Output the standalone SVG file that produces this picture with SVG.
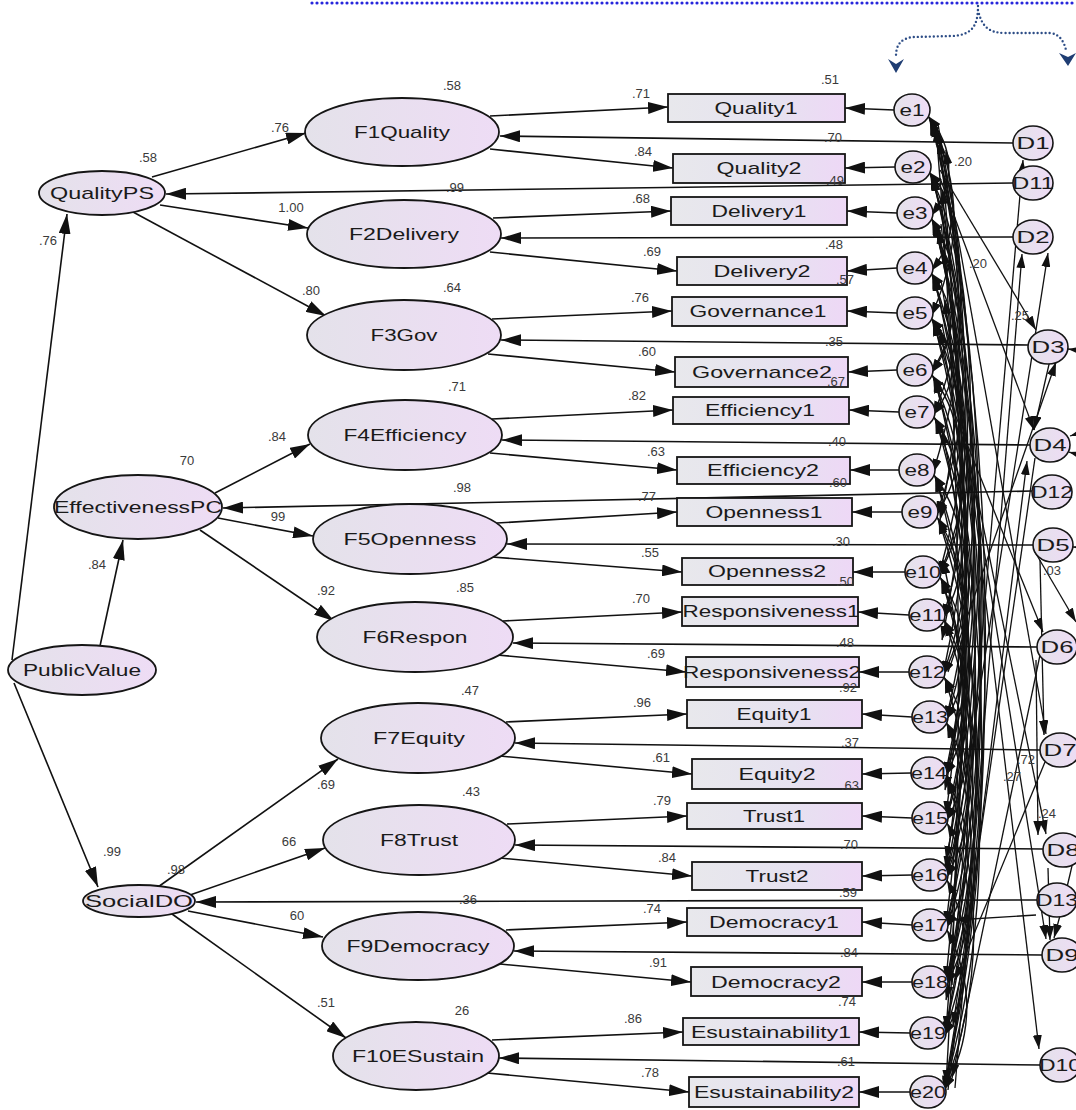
<svg xmlns="http://www.w3.org/2000/svg" width="1076" height="1110" viewBox="0 0 1076 1110">
  <defs>
    <linearGradient id="lav" x1="0" y1="0" x2="1" y2="0">
      <stop offset="0" stop-color="#e4e2ea"/>
      <stop offset="1" stop-color="#eedcf5"/>
    </linearGradient>
    <linearGradient id="box" x1="0" y1="0" x2="1" y2="0">
      <stop offset="0" stop-color="#e8e8ec"/>
      <stop offset="0.6" stop-color="#e6e2f0"/>
      <stop offset="1" stop-color="#eed8f6"/>
    </linearGradient>
    <marker id="ah" viewBox="0 0 20 12" refX="20" refY="6" markerWidth="20" markerHeight="12" markerUnits="userSpaceOnUse" orient="auto-start-reverse">
      <path d="M0,0 L20,6 L0,12 z" fill="#111"/>
    </marker>
    <marker id="sh" viewBox="0 0 14 9" refX="14" refY="4.5" markerWidth="14" markerHeight="9" markerUnits="userSpaceOnUse" orient="auto-start-reverse">
      <path d="M0,0 L14,4.5 L0,9 z" fill="#111"/>
    </marker>
  </defs>
  <style>
    .lat ellipse { fill: url(#lav); stroke: #151515; stroke-width: 1.8; }
    .obs rect { fill: url(#box); stroke: #151515; stroke-width: 1.8; }
    .err ellipse { fill: url(#lav); stroke: #151515; stroke-width: 1.6; }
    .lbl { font-family: "Liberation Sans", Arial, sans-serif; font-size: 17px; fill: #1a1a1a; text-anchor: middle; }
    .num { font-family: "Liberation Sans", Arial, sans-serif; font-size: 13px; fill: #3a3a3a; text-anchor: middle; }
    .path line, .path path { stroke: #111; stroke-width: 1.6; fill: none; marker-end: url(#ah); }
    .cov path { stroke: #111; stroke-width: 1.4; fill: none; marker-start: url(#sh); marker-end: url(#sh); }
    .cvl path { stroke: #111; stroke-width: 1.3; fill: none; marker-end: url(#sh); }
    .note { fill: none; stroke-linecap: round; }
  </style>

  <rect width="1076" height="1110" fill="#ffffff"/>

  <!-- dotted callout along the top edge -->
  <g id="callout">
    <line class="note" x1="312" y1="3" x2="1076" y2="3" stroke="#2626dc" stroke-width="3.2" stroke-dasharray="0 5"/>
    <path class="note" d="M978,6 C978,26 972,35 952,36 L914,37 C900,38 896,46 896,56" stroke="#2d4d86" stroke-width="2.4" stroke-dasharray="0 4"/>
    <path class="note" d="M978,10 C982,28 990,33 1006,33 L1050,33 C1060,34 1064,42 1066,50" stroke="#2d4d86" stroke-width="2.4" stroke-dasharray="0 4"/>
    <path d="M888,59 L896,73 L904,59 L896,64 z" fill="#1f3d73"/>
    <path d="M1059,53 L1068,66 L1076,53 L1068,57 z" fill="#1f3d73"/>
  </g>

  <!-- connectors -->
  <g id="connectors">
    <g class="path">
      <!-- second-order paths -->
      <line x1="12" y1="660" x2="67" y2="214"/>
      <line x1="100" y1="646" x2="123" y2="540"/>
      <line x1="14" y1="683" x2="98" y2="887"/>
      <line x1="152" y1="177" x2="306" y2="133"/>
      <line x1="160" y1="205" x2="308" y2="228"/>
      <line x1="133" y1="212" x2="326" y2="316"/>
      <line x1="215" y1="493" x2="310" y2="444"/>
      <line x1="218" y1="518" x2="313" y2="536"/>
      <line x1="200" y1="530" x2="334" y2="621"/>
      <line x1="158" y1="887" x2="338" y2="759"/>
      <line x1="190" y1="895" x2="325" y2="848"/>
      <line x1="188" y1="911" x2="323" y2="937"/>
      <line x1="172" y1="914" x2="346" y2="1038"/>
      <!-- loadings -->
      <line x1="490" y1="116" x2="668" y2="107"/>
      <line x1="490" y1="149" x2="673" y2="168"/>
      <line x1="493" y1="218" x2="671" y2="211"/>
      <line x1="490" y1="252" x2="677" y2="271"/>
      <line x1="492" y1="319" x2="672" y2="311"/>
      <line x1="488" y1="354" x2="675" y2="372"/>
      <line x1="492" y1="419" x2="673" y2="410"/>
      <line x1="490" y1="453" x2="677" y2="470"/>
      <line x1="497" y1="523" x2="677" y2="512"/>
      <line x1="492" y1="557" x2="682" y2="572"/>
      <line x1="503" y1="621" x2="682" y2="612"/>
      <line x1="497" y1="655" x2="686" y2="672"/>
      <line x1="506" y1="722" x2="687" y2="714"/>
      <line x1="500" y1="756" x2="692" y2="774"/>
      <line x1="507" y1="824" x2="687" y2="816"/>
      <line x1="500" y1="858" x2="692" y2="876"/>
      <line x1="506" y1="930" x2="687" y2="922"/>
      <line x1="500" y1="964" x2="691" y2="982"/>
      <line x1="492" y1="1040" x2="683" y2="1032"/>
      <line x1="487" y1="1073" x2="689" y2="1092"/>
      <!-- disturbances -->
      <line x1="1013" y1="143" x2="500" y2="136"/>
      <line x1="1013" y1="183" x2="166" y2="194"/>
      <line x1="1013" y1="237" x2="501" y2="238"/>
      <line x1="1028" y1="345" x2="501" y2="340"/>
      <line x1="1030" y1="445" x2="502" y2="440"/>
      <line x1="1032" y1="491" x2="223" y2="508"/>
      <line x1="1033" y1="545" x2="507" y2="544"/>
      <line x1="1037" y1="647" x2="513" y2="643"/>
      <line x1="1040" y1="750" x2="515" y2="743"/>
      <line x1="1043" y1="849" x2="515" y2="845"/>
      <line x1="1037" y1="900" x2="196" y2="902"/>
      <line x1="1042" y1="955" x2="514" y2="951"/>
      <line x1="1040" y1="1065" x2="499" y2="1058"/>
      <!-- measurement errors -->
      <line x1="894" y1="110" x2="845" y2="108"/>
      <line x1="895" y1="167" x2="845" y2="168"/>
      <line x1="897" y1="213" x2="847" y2="211"/>
      <line x1="897" y1="268" x2="847" y2="271"/>
      <line x1="897" y1="313" x2="847" y2="311"/>
      <line x1="897" y1="370" x2="848" y2="372"/>
      <line x1="899" y1="412" x2="849" y2="410"/>
      <line x1="899" y1="470" x2="850" y2="470"/>
      <line x1="902" y1="512" x2="852" y2="512"/>
      <line x1="905" y1="572" x2="853" y2="572"/>
      <line x1="909" y1="615" x2="858" y2="612"/>
      <line x1="909" y1="672" x2="859" y2="672"/>
      <line x1="912" y1="717" x2="862" y2="714"/>
      <line x1="911" y1="773" x2="862" y2="774"/>
      <line x1="912" y1="818" x2="862" y2="816"/>
      <line x1="912" y1="875" x2="862" y2="876"/>
      <line x1="912" y1="925" x2="862" y2="922"/>
      <line x1="912" y1="982" x2="862" y2="982"/>
      <line x1="910" y1="1033" x2="859" y2="1032"/>
      <line x1="910" y1="1092" x2="859" y2="1092"/>
    </g>

    <!-- error covariances -->
    <g class="cov">
      <path d="M928,116 Q968,165 931,216"/>
      <path d="M929,118 Q978,215 931,316"/>
      <path d="M930,120 Q990,290 933,473"/>
      <path d="M931,121 Q1004,395 943,675"/>
      <path d="M932,122 Q1018,500 946,878"/>
      <path d="M933,123 Q1032,610 944,1090"/>
      <path d="M929,172 Q972,220 931,271"/>
      <path d="M930,174 Q986,295 933,415"/>
      <path d="M931,175 Q996,375 939,575"/>
      <path d="M932,176 Q1010,475 945,776"/>
      <path d="M933,177 Q1024,580 946,985"/>
      <path d="M931,218 Q980,295 931,373"/>
      <path d="M932,220 Q992,370 936,515"/>
      <path d="M933,221 Q1006,470 946,720"/>
      <path d="M934,222 Q1020,575 946,928"/>
      <path d="M935,223 Q1030,660 944,1092"/>
      <path d="M931,273 Q970,322 931,373"/>
      <path d="M932,275 Q996,445 943,618"/>
      <path d="M933,276 Q1010,550 946,821"/>
      <path d="M934,277 Q1023,655 944,1036"/>
      <path d="M931,318 Q972,365 933,415"/>
      <path d="M932,320 Q994,450 939,575"/>
      <path d="M933,321 Q1008,550 945,776"/>
      <path d="M934,322 Q1020,655 946,985"/>
      <path d="M932,375 Q982,445 936,515"/>
      <path d="M933,377 Q996,525 943,675"/>
      <path d="M934,378 Q1010,625 946,878"/>
      <path d="M935,379 Q1024,735 944,1090"/>
      <path d="M934,417 Q984,495 939,575"/>
      <path d="M935,419 Q996,570 946,720"/>
      <path d="M936,420 Q1010,675 946,928"/>
      <path d="M934,475 Q984,545 943,618"/>
      <path d="M935,477 Q998,650 946,821"/>
      <path d="M936,478 Q1012,755 944,1036"/>
      <path d="M937,517 Q985,595 943,675"/>
      <path d="M938,519 Q996,645 945,776"/>
      <path d="M939,520 Q1012,750 946,985"/>
      <path d="M940,577 Q986,650 946,720"/>
      <path d="M941,579 Q998,730 946,878"/>
      <path d="M942,580 Q1016,835 944,1090"/>
      <path d="M944,620 Q988,700 945,776"/>
      <path d="M945,622 Q1000,775 946,928"/>
      <path d="M944,677 Q988,750 946,821"/>
      <path d="M945,679 Q1004,860 944,1036"/>
      <path d="M946,722 Q990,800 946,878"/>
      <path d="M947,724 Q996,855 946,985"/>
      <path d="M946,778 Q990,855 946,928"/>
      <path d="M947,780 Q1002,935 944,1090"/>
      <path d="M947,823 Q990,905 946,985"/>
      <path d="M947,880 Q986,960 944,1036"/>
      <path d="M947,930 Q988,1010 944,1090"/>
      <path d="M937,130 Q980,330 940,520"/>
      <path d="M938,230 Q984,440 942,640"/>
      <path d="M940,330 Q990,560 945,790"/>
      <path d="M942,430 Q990,650 946,860"/>
      <path d="M943,560 Q992,780 946,1000"/>
      <path d="M936,128 Q975,600 946,1084"/>
      <path d="M940,140 Q982,590 946,1030"/>
      <path d="M942,190 Q986,590 946,980"/>
      <path d="M944,250 Q988,590 946,925"/>
      <path d="M945,300 Q986,590 946,870"/>
      <path d="M946,150 Q990,480 946,815"/>
    </g>

    <!-- covariances reaching the disturbances -->
    <g class="cvl">
      <path d="M938,124 L1046,734"/>
      <path d="M940,178 L1034,430"/>
      <path d="M941,224 L1039,1049"/>
      <path d="M941,280 L1046,939"/>
      <path d="M942,324 L1046,834"/>
      <path d="M942,382 L1043,632"/>
      <path d="M940,170 L1036,330"/>
      <path d="M952,985 L1023,160"/>
      <path d="M955,1088 L1022,254"/>
      <path d="M951,875 L1048,253"/>
      <path d="M948,672 L1056,362"/>
      <path d="M948,1090 L1027,461"/>
      <path d="M1040,655 L952,1078"/>
      <path d="M1035,458 L953,1026"/>
      <path d="M1045,762 L955,980"/>
      <path d="M1050,360 L1034,430"/>
      <path d="M1040,560 L1044,735"/>
      <path d="M1048,868 L1050,940"/>
      <path d="M1036,660 L1038,835"/>
      <path d="M1086,800 Q1070,880 1054,938"/>
      <path d="M1035,552 L1076,622"/>
      <path d="M1036,915 L955,920"/>
      <path d="M1090,352 L1068,349"/>
      <path d="M1090,430 L1070,436"/>
      <path d="M1090,458 L1069,452"/>
      <path d="M1090,548 L1073,547"/>
      <path d="M1090,906 L1076,903"/>
    </g>
  </g>

  <!-- latent variables -->
  <g id="QualityPS" class="lat"><ellipse cx="102" cy="193" rx="63" ry="22"/><text class="lbl" x="102" y="199" textLength="104" lengthAdjust="spacingAndGlyphs">QualityPS</text></g>
  <g id="F1Quality" class="lat"><ellipse cx="402" cy="132" rx="97" ry="34"/><text class="lbl" x="402" y="138" textLength="96" lengthAdjust="spacingAndGlyphs">F1Quality</text></g>
  <g id="F2Delivery" class="lat"><ellipse cx="404" cy="234" rx="97" ry="34"/><text class="lbl" x="404" y="240" textLength="110" lengthAdjust="spacingAndGlyphs">F2Delivery</text></g>
  <g id="F3Gov" class="lat"><ellipse cx="404" cy="335" rx="97" ry="35"/><text class="lbl" x="404" y="341" textLength="67" lengthAdjust="spacingAndGlyphs">F3Gov</text></g>
  <g id="F4Efficiency" class="lat"><ellipse cx="405" cy="435" rx="97" ry="35"/><text class="lbl" x="405" y="441" textLength="123" lengthAdjust="spacingAndGlyphs">F4Efficiency</text></g>
  <g id="EffectivenessPC" class="lat"><ellipse cx="138" cy="507" rx="84" ry="32"/><text class="lbl" x="138" y="513" textLength="168" lengthAdjust="spacingAndGlyphs">EffectivenessPC</text></g>
  <g id="F5Openness" class="lat"><ellipse cx="410" cy="539" rx="97" ry="35"/><text class="lbl" x="410" y="545" textLength="133" lengthAdjust="spacingAndGlyphs">F5Openness</text></g>
  <g id="F6Respon" class="lat"><ellipse cx="415" cy="637" rx="98" ry="35"/><text class="lbl" x="415" y="643" textLength="105" lengthAdjust="spacingAndGlyphs">F6Respon</text></g>
  <g id="PublicValue" class="lat"><ellipse cx="82" cy="670" rx="74" ry="25"/><text class="lbl" x="82" y="676" textLength="118" lengthAdjust="spacingAndGlyphs">PublicValue</text></g>
  <g id="F7Equity" class="lat"><ellipse cx="418" cy="738" rx="97" ry="35"/><text class="lbl" x="419" y="744" textLength="92" lengthAdjust="spacingAndGlyphs">F7Equity</text></g>
  <g id="F8Trust" class="lat"><ellipse cx="419" cy="840" rx="96" ry="35"/><text class="lbl" x="419" y="846" textLength="78" lengthAdjust="spacingAndGlyphs">F8Trust</text></g>
  <g id="SocialDO" class="lat"><ellipse cx="139" cy="901" rx="56" ry="16"/><text class="lbl" x="139" y="907" textLength="108" lengthAdjust="spacingAndGlyphs">SocialDO</text></g>
  <g id="F9Democracy" class="lat"><ellipse cx="418" cy="946" rx="96" ry="34"/><text class="lbl" x="418" y="952" textLength="143" lengthAdjust="spacingAndGlyphs">F9Democracy</text></g>
  <g id="F10ESustain" class="lat"><ellipse cx="416" cy="1056" rx="83" ry="34"/><text class="lbl" x="418" y="1062" textLength="132" lengthAdjust="spacingAndGlyphs">F10ESustain</text></g>

  <!-- observed indicators -->
  <g id="Quality1" class="obs"><rect x="668" y="94" width="177" height="28"/><text class="lbl" x="756" y="114" textLength="83" lengthAdjust="spacingAndGlyphs">Quality1</text></g>
  <g id="Quality2" class="obs"><rect x="673" y="154" width="172" height="29"/><text class="lbl" x="759" y="174" textLength="85" lengthAdjust="spacingAndGlyphs">Quality2</text></g>
  <g id="Delivery1" class="obs"><rect x="671" y="197" width="176" height="28"/><text class="lbl" x="759" y="217" textLength="95" lengthAdjust="spacingAndGlyphs">Delivery1</text></g>
  <g id="Delivery2" class="obs"><rect x="677" y="257" width="170" height="28"/><text class="lbl" x="762" y="277" textLength="97" lengthAdjust="spacingAndGlyphs">Delivery2</text></g>
  <g id="Governance1" class="obs"><rect x="672" y="297" width="175" height="29"/><text class="lbl" x="758" y="317" textLength="137" lengthAdjust="spacingAndGlyphs">Governance1</text></g>
  <g id="Governance2" class="obs"><rect x="675" y="357" width="173" height="30"/><text class="lbl" x="762" y="378" textLength="140" lengthAdjust="spacingAndGlyphs">Governance2</text></g>
  <g id="Efficiency1" class="obs"><rect x="673" y="397" width="176" height="27"/><text class="lbl" x="760" y="416" textLength="110" lengthAdjust="spacingAndGlyphs">Efficiency1</text></g>
  <g id="Efficiency2" class="obs"><rect x="677" y="457" width="173" height="27"/><text class="lbl" x="763" y="476" textLength="112" lengthAdjust="spacingAndGlyphs">Efficiency2</text></g>
  <g id="Openness1" class="obs"><rect x="677" y="498" width="175" height="28"/><text class="lbl" x="764" y="518" textLength="117" lengthAdjust="spacingAndGlyphs">Openness1</text></g>
  <g id="Openness2" class="obs"><rect x="682" y="558" width="171" height="27"/><text class="lbl" x="767" y="577" textLength="118" lengthAdjust="spacingAndGlyphs">Openness2</text></g>
  <g id="Responsiveness1" class="obs"><rect x="682" y="597" width="176" height="29"/><text class="lbl" x="771" y="617" textLength="177" lengthAdjust="spacingAndGlyphs">Responsiveness1</text></g>
  <g id="Responsiveness2" class="obs"><rect x="686" y="657" width="173" height="30"/><text class="lbl" x="772" y="678" textLength="178" lengthAdjust="spacingAndGlyphs">Responsiveness2</text></g>
  <g id="Equity1" class="obs"><rect x="687" y="700" width="175" height="28"/><text class="lbl" x="774" y="720" textLength="75" lengthAdjust="spacingAndGlyphs">Equity1</text></g>
  <g id="Equity2" class="obs"><rect x="692" y="759" width="170" height="30"/><text class="lbl" x="777" y="780" textLength="77" lengthAdjust="spacingAndGlyphs">Equity2</text></g>
  <g id="Trust1" class="obs"><rect x="687" y="803" width="175" height="26"/><text class="lbl" x="774" y="822" textLength="62" lengthAdjust="spacingAndGlyphs">Trust1</text></g>
  <g id="Trust2" class="obs"><rect x="692" y="862" width="170" height="28"/><text class="lbl" x="777" y="882" textLength="63" lengthAdjust="spacingAndGlyphs">Trust2</text></g>
  <g id="Democracy1" class="obs"><rect x="687" y="908" width="175" height="28"/><text class="lbl" x="774" y="928" textLength="130" lengthAdjust="spacingAndGlyphs">Democracy1</text></g>
  <g id="Democracy2" class="obs"><rect x="691" y="967" width="171" height="29"/><text class="lbl" x="776" y="988" textLength="130" lengthAdjust="spacingAndGlyphs">Democracy2</text></g>
  <g id="Esustainability1" class="obs"><rect x="683" y="1018" width="176" height="27"/><text class="lbl" x="771" y="1038" textLength="160" lengthAdjust="spacingAndGlyphs">Esustainability1</text></g>
  <g id="Esustainability2" class="obs"><rect x="689" y="1077" width="170" height="30"/><text class="lbl" x="774" y="1098" textLength="160" lengthAdjust="spacingAndGlyphs">Esustainability2</text></g>

  <!-- measurement errors -->
  <g id="e1" class="err"><ellipse cx="912" cy="110" rx="18" ry="16"/><text class="lbl" x="912" y="116" textLength="25" lengthAdjust="spacingAndGlyphs">e1</text></g>
  <g id="e2" class="err"><ellipse cx="913" cy="167" rx="18" ry="16"/><text class="lbl" x="913" y="173" textLength="25" lengthAdjust="spacingAndGlyphs">e2</text></g>
  <g id="e3" class="err"><ellipse cx="915" cy="213" rx="18" ry="16"/><text class="lbl" x="915" y="219" textLength="25" lengthAdjust="spacingAndGlyphs">e3</text></g>
  <g id="e4" class="err"><ellipse cx="915" cy="268" rx="18" ry="16"/><text class="lbl" x="915" y="274" textLength="25" lengthAdjust="spacingAndGlyphs">e4</text></g>
  <g id="e5" class="err"><ellipse cx="915" cy="313" rx="18" ry="16"/><text class="lbl" x="915" y="319" textLength="25" lengthAdjust="spacingAndGlyphs">e5</text></g>
  <g id="e6" class="err"><ellipse cx="915" cy="370" rx="18" ry="16"/><text class="lbl" x="915" y="376" textLength="25" lengthAdjust="spacingAndGlyphs">e6</text></g>
  <g id="e7" class="err"><ellipse cx="917" cy="412" rx="18" ry="16"/><text class="lbl" x="917" y="418" textLength="25" lengthAdjust="spacingAndGlyphs">e7</text></g>
  <g id="e8" class="err"><ellipse cx="917" cy="470" rx="18" ry="16"/><text class="lbl" x="917" y="476" textLength="25" lengthAdjust="spacingAndGlyphs">e8</text></g>
  <g id="e9" class="err"><ellipse cx="920" cy="512" rx="18" ry="16"/><text class="lbl" x="920" y="518" textLength="25" lengthAdjust="spacingAndGlyphs">e9</text></g>
  <g id="e10" class="err"><ellipse cx="923" cy="572" rx="18" ry="16"/><text class="lbl" x="923" y="578" textLength="36" lengthAdjust="spacingAndGlyphs">e10</text></g>
  <g id="e11" class="err"><ellipse cx="927" cy="615" rx="18" ry="16"/><text class="lbl" x="927" y="621" textLength="36" lengthAdjust="spacingAndGlyphs">e11</text></g>
  <g id="e12" class="err"><ellipse cx="927" cy="672" rx="18" ry="16"/><text class="lbl" x="927" y="678" textLength="36" lengthAdjust="spacingAndGlyphs">e12</text></g>
  <g id="e13" class="err"><ellipse cx="930" cy="717" rx="18" ry="16"/><text class="lbl" x="930" y="723" textLength="36" lengthAdjust="spacingAndGlyphs">e13</text></g>
  <g id="e14" class="err"><ellipse cx="929" cy="773" rx="18" ry="16"/><text class="lbl" x="929" y="779" textLength="36" lengthAdjust="spacingAndGlyphs">e14</text></g>
  <g id="e15" class="err"><ellipse cx="930" cy="818" rx="18" ry="16"/><text class="lbl" x="930" y="824" textLength="36" lengthAdjust="spacingAndGlyphs">e15</text></g>
  <g id="e16" class="err"><ellipse cx="930" cy="875" rx="18" ry="16"/><text class="lbl" x="930" y="881" textLength="36" lengthAdjust="spacingAndGlyphs">e16</text></g>
  <g id="e17" class="err"><ellipse cx="930" cy="925" rx="18" ry="16"/><text class="lbl" x="930" y="931" textLength="36" lengthAdjust="spacingAndGlyphs">e17</text></g>
  <g id="e18" class="err"><ellipse cx="930" cy="982" rx="18" ry="16"/><text class="lbl" x="930" y="988" textLength="36" lengthAdjust="spacingAndGlyphs">e18</text></g>
  <g id="e19" class="err"><ellipse cx="928" cy="1033" rx="18" ry="16"/><text class="lbl" x="928" y="1039" textLength="36" lengthAdjust="spacingAndGlyphs">e19</text></g>
  <g id="e20" class="err"><ellipse cx="928" cy="1092" rx="18" ry="16"/><text class="lbl" x="928" y="1098" textLength="36" lengthAdjust="spacingAndGlyphs">e20</text></g>

  <!-- structural disturbances -->
  <g id="D1" class="err"><ellipse cx="1033" cy="143" rx="20" ry="17"/><text class="lbl" x="1033" y="149" textLength="33" lengthAdjust="spacingAndGlyphs">D1</text></g>
  <g id="D11" class="err"><ellipse cx="1033" cy="183" rx="20" ry="17"/><text class="lbl" x="1033" y="189" textLength="42" lengthAdjust="spacingAndGlyphs">D11</text></g>
  <g id="D2" class="err"><ellipse cx="1033" cy="237" rx="20" ry="17"/><text class="lbl" x="1033" y="243" textLength="33" lengthAdjust="spacingAndGlyphs">D2</text></g>
  <g id="D3" class="err"><ellipse cx="1048" cy="347" rx="20" ry="17"/><text class="lbl" x="1048" y="353" textLength="33" lengthAdjust="spacingAndGlyphs">D3</text></g>
  <g id="D4" class="err"><ellipse cx="1050" cy="445" rx="20" ry="17"/><text class="lbl" x="1050" y="451" textLength="33" lengthAdjust="spacingAndGlyphs">D4</text></g>
  <g id="D12" class="err"><ellipse cx="1052" cy="492" rx="20" ry="17"/><text class="lbl" x="1052" y="498" textLength="42" lengthAdjust="spacingAndGlyphs">D12</text></g>
  <g id="D5" class="err"><ellipse cx="1053" cy="545" rx="20" ry="17"/><text class="lbl" x="1053" y="551" textLength="33" lengthAdjust="spacingAndGlyphs">D5</text></g>
  <g id="D6" class="err"><ellipse cx="1057" cy="647" rx="20" ry="17"/><text class="lbl" x="1057" y="653" textLength="33" lengthAdjust="spacingAndGlyphs">D6</text></g>
  <g id="D7" class="err"><ellipse cx="1060" cy="750" rx="20" ry="17"/><text class="lbl" x="1060" y="756" textLength="33" lengthAdjust="spacingAndGlyphs">D7</text></g>
  <g id="D8" class="err"><ellipse cx="1063" cy="850" rx="20" ry="17"/><text class="lbl" x="1063" y="856" textLength="33" lengthAdjust="spacingAndGlyphs">D8</text></g>
  <g id="D13" class="err"><ellipse cx="1057" cy="900" rx="20" ry="17"/><text class="lbl" x="1057" y="906" textLength="42" lengthAdjust="spacingAndGlyphs">D13</text></g>
  <g id="D9" class="err"><ellipse cx="1062" cy="955" rx="20" ry="17"/><text class="lbl" x="1062" y="961" textLength="33" lengthAdjust="spacingAndGlyphs">D9</text></g>
  <g id="D10" class="err"><ellipse cx="1060" cy="1065" rx="20" ry="17"/><text class="lbl" x="1060" y="1071" textLength="42" lengthAdjust="spacingAndGlyphs">D10</text></g>

  <!-- estimates -->
  <g id="estimates">
    <text class="num" x="148" y="162">.58</text>
    <text class="num" x="280" y="132">.76</text>
    <text class="num" x="452" y="90">.58</text>
    <text class="num" x="291" y="212">1.00</text>
    <text class="num" x="455" y="192">.99</text>
    <text class="num" x="48" y="245">.76</text>
    <text class="num" x="311" y="295">.80</text>
    <text class="num" x="452" y="292">.64</text>
    <text class="num" x="457" y="391">.71</text>
    <text class="num" x="277" y="441">.84</text>
    <text class="num" x="187" y="465">70</text>
    <text class="num" x="462" y="492">.98</text>
    <text class="num" x="278" y="521">99</text>
    <text class="num" x="97" y="569">.84</text>
    <text class="num" x="326" y="595">.92</text>
    <text class="num" x="465" y="592">.85</text>
    <text class="num" x="470" y="695">.47</text>
    <text class="num" x="326" y="789">.69</text>
    <text class="num" x="471" y="796">.43</text>
    <text class="num" x="289" y="846">66</text>
    <text class="num" x="112" y="856">.99</text>
    <text class="num" x="176" y="874">.98</text>
    <text class="num" x="468" y="904">.36</text>
    <text class="num" x="297" y="920">60</text>
    <text class="num" x="326" y="1007">.51</text>
    <text class="num" x="462" y="1015">26</text>

    <text class="num" x="641" y="98">.71</text>
    <text class="num" x="830" y="84">.51</text>
    <text class="num" x="833" y="142">.70</text>
    <text class="num" x="643" y="156">.84</text>
    <text class="num" x="963" y="166">.20</text>
    <text class="num" x="835" y="185">.49</text>
    <text class="num" x="641" y="203">.68</text>
    <text class="num" x="834" y="249">.48</text>
    <text class="num" x="652" y="256">.69</text>
    <text class="num" x="978" y="268">.20</text>
    <text class="num" x="845" y="284">.57</text>
    <text class="num" x="640" y="302">.76</text>
    <text class="num" x="834" y="346">.35</text>
    <text class="num" x="647" y="356">.60</text>
    <text class="num" x="836" y="386">.67</text>
    <text class="num" x="637" y="400">.82</text>
    <text class="num" x="837" y="446">.40</text>
    <text class="num" x="656" y="456">.63</text>
    <text class="num" x="838" y="487">.60</text>
    <text class="num" x="647" y="501">.77</text>
    <text class="num" x="841" y="546">.30</text>
    <text class="num" x="650" y="557">.55</text>
    <text class="num" x="845" y="586">.50</text>
    <text class="num" x="641" y="603">.70</text>
    <text class="num" x="845" y="647">.48</text>
    <text class="num" x="656" y="658">.69</text>
    <text class="num" x="848" y="692">.92</text>
    <text class="num" x="642" y="707">.96</text>
    <text class="num" x="850" y="747">.37</text>
    <text class="num" x="661" y="762">.61</text>
    <text class="num" x="850" y="790">.63</text>
    <text class="num" x="662" y="805">.79</text>
    <text class="num" x="849" y="849">.70</text>
    <text class="num" x="667" y="862">.84</text>
    <text class="num" x="848" y="897">.59</text>
    <text class="num" x="652" y="913">.74</text>
    <text class="num" x="849" y="957">.84</text>
    <text class="num" x="658" y="967">.91</text>
    <text class="num" x="847" y="1006">.74</text>
    <text class="num" x="633" y="1023">.86</text>
    <text class="num" x="846" y="1066">.61</text>
    <text class="num" x="650" y="1077">.78</text>

    <text class="num" x="1020" y="320">.25</text>
    <text class="num" x="1052" y="575">.03</text>
    <text class="num" x="1026" y="764">.72</text>
    <text class="num" x="1012" y="781">.27</text>
    <text class="num" x="1047" y="818">.24</text>
  </g>
</svg>
